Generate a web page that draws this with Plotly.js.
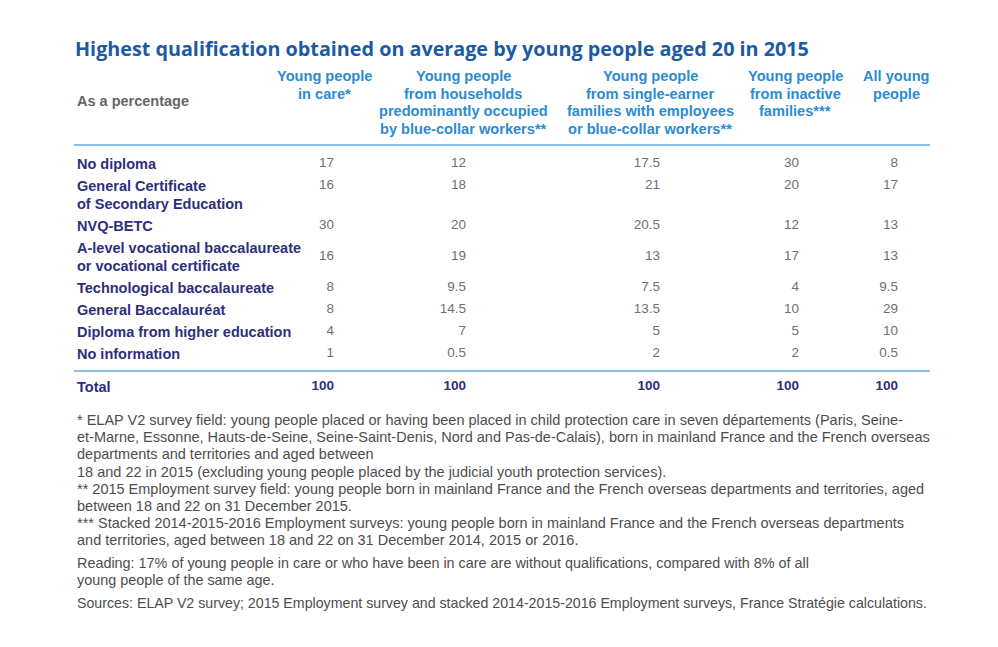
<!DOCTYPE html>
<html><head><meta charset="utf-8">
<script src="https://cdn.plot.ly/plotly-3.0.1.min.js"></script>
<style>html,body{margin:0;padding:0;background:#fff}#chart{width:998px;height:647px}</style>
</head><body><div id="chart"></div>
<script>
// ---- data ----
const title = "Highest qualification obtained on average by young people aged 20 in 2015";
const unitLabel = "As a percentage";
const columns = [
  "Young people<br>in care*",
  "Young people<br>from households<br>predominantly occupied<br>by blue-collar workers**",
  "Young people<br>from single-earner<br>families with employees<br>or blue-collar workers**",
  "Young people<br>from inactive<br>families***",
  "All young<br>people"
];
const categories = [
  "No diploma",
  "General Certificate<br>of Secondary Education",
  "NVQ-BETC",
  "A-level vocational baccalaureate<br>or vocational certificate",
  "Technological baccalaureate",
  "General Baccalauréat",
  "Diploma from higher education",
  "No information"
];
const inCare        = [17, 16, 30, 16, 8, 8, 4, 1];
const blueCollarHH  = [12, 18, 20, 19, 9.5, 14.5, 7, 0.5];
const singleEarner  = [17.5, 21, 20.5, 13, 7.5, 13.5, 5, 2];
const inactive      = [30, 20, 12, 17, 4, 10, 5, 2];
const allYoung      = [8, 17, 13, 13, 9.5, 29, 10, 0.5];
const totalLabel = "Total";
const totals = [100, 100, 100, 100, 100];
const footnotes = [
  "* ELAP V2 survey field: young people placed or having been placed in child protection care in seven départements (Paris, Seine-",
  "et-Marne, Essonne, Hauts-de-Seine, Seine-Saint-Denis, Nord and Pas-de-Calais), born in mainland France and the French overseas",
  "departments and territories and aged between",
  "18 and 22 in 2015 (excluding young people placed by the judicial youth protection services).",
  "** 2015 Employment survey field: young people born in mainland France and the French overseas departments and territories, aged",
  "between 18 and 22 on 31 December 2015.",
  "*** Stacked 2014-2015-2016 Employment surveys: young people born in mainland France and the French overseas departments",
  "and territories, aged between 18 and 22 on 31 December 2014, 2015 or 2016."
];
const reading = [
  "Reading: 17% of young people in care or who have been in care are without qualifications, compared with 8% of all",
  "young people of the same age."
];
const sources = "Sources: ELAP V2 survey; 2015 Employment survey and stacked 2014-2015-2016 Employment surveys, France Stratégie calculations.";

// ---- layout (pixel geometry) ----
const series = [inCare, blueCollarHH, singleEarner, inactive, allYoung];
const colRight = [334, 466, 660, 799, 898];
const colCenter = [324, 463, 650, 795, 896];
const valueMiddle = [false, false, false, true, false, false, false, false];
const C = {title:'#1b5aa5', head:'#2b8bd2', label:'#2d2f7c', value:'#707070', rule:'#63abdd', note:'#4d4d4d', unit:'#666666'};
const FONT = 'Liberation Sans, Arial, sans-serif';

const rowTop = [], valY = [];
let y = 164;
categories.forEach((c, i) => {
  const lines = c.split('<br>').length;
  rowTop.push(y);
  valY.push(valueMiddle[i] ? y + (lines - 1) * 9 : y);
  y += 22 + (lines - 1) * 18;
});

const traces = series.map((s, j) => ({
  type: 'scatter', mode: 'text',
  x: s.map(() => colRight[j]), y: valY,
  text: s.map(v => String(v)),
  textposition: 'middle left',
  textfont: {family: FONT, size: 13.5, color: C.value},
  hoverinfo: 'skip', showlegend: false, cliponaxis: false
}));
traces.push({
  type: 'scatter', mode: 'text',
  x: colRight, y: colRight.map(() => 387),
  text: totals.map(v => '<b>' + v + '</b>'),
  textposition: 'middle left',
  textfont: {family: FONT, size: 13.5, color: C.label},
  hoverinfo: 'skip', showlegend: false, cliponaxis: false
});

const ann = [];
function txt(x, yy, t, size, color, xanchor, family) {
  ann.push({x: x, y: yy, xref: 'x', yref: 'y', xanchor: xanchor || 'left', yanchor: 'middle',
    showarrow: false, text: t, font: {family: family || FONT, size: size, color: color}});
}
const LX = 74.5;
txt(72.5, 48, '<b>' + title + '</b>', 19.75, C.title, 'left', 'Open Sans, sans-serif');
txt(LX, 101, '<b>' + unitLabel + '</b>', 14.5, C.unit);
columns.forEach((c, j) => c.split('<br>').forEach((ln, k) =>
  txt(colCenter[j], 76 + k * 17.5, '<b>' + ln + '</b>', 14.6, C.head, 'center')));
categories.forEach((c, i) => c.split('<br>').forEach((ln, k) =>
  txt(LX, rowTop[i] + k * 18, '<b>' + ln + '</b>', 14.5, C.label)));
txt(LX, 387, '<b>' + totalLabel + '</b>', 14.5, C.label);
footnotes.forEach((ln, k) => txt(LX, 420 + k * 17.2, ln, 14.5, C.note));
reading.forEach((ln, k) => txt(LX, 563 + k * 17, ln, 14.4, C.note));
txt(LX, 603, sources, 14.2, C.note);

const shapes = [145, 371].map(yy => ({type: 'line', xref: 'x', yref: 'y', x0: 74, x1: 930, y0: yy, y1: yy,
  line: {color: C.rule, width: 1.5}}));

const layout = {
  width: 998, height: 647, margin: {l: 0, r: 0, t: 0, b: 0},
  paper_bgcolor: '#fff', plot_bgcolor: '#fff',
  xaxis: {range: [0, 998], visible: false, fixedrange: true},
  yaxis: {range: [647, 0], visible: false, fixedrange: true},
  annotations: ann, shapes: shapes, showlegend: false
};
Plotly.newPlot('chart', traces, layout, {displayModeBar: false, staticPlot: true});
</script></body></html>
